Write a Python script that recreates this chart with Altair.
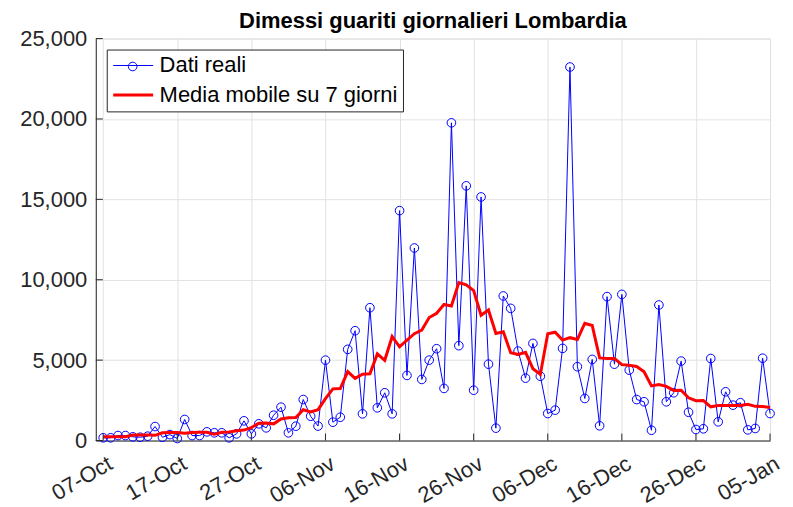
import altair as alt
import pandas as pd

# ---- data ----
START_DATE = "2020-10-07"
VALUES = [170, 170, 310, 310, 230, 205, 270, 870, 205, 370,
          125, 1310, 310, 310, 540, 480, 480, 170, 415, 1225,
          415, 1040, 790, 1575, 2075, 480, 890, 2550, 1510, 900,
          5000, 1140, 1450, 5670, 6830, 1660, 8260, 2035, 2970, 1660,
          14300, 4050, 11975, 3800, 5000, 5710, 3240, 19760, 5900, 15840,
          3130, 15150, 4750, 770, 8990, 8220, 5560, 3880, 6040, 4000,
          1680, 1890, 5730, 23230, 4590, 2615, 5045, 915, 8950, 4750,
          9090, 4380, 2550, 2410, 640, 8430, 2410, 2970, 4940, 1760,
          685, 730, 5100, 1165, 3030, 2200, 2350, 665, 750, 5120,
          1680]
SERIES = ["Dati reali", "Media mobile su 7 giorni"]
X_TICKS = ["2020-10-07", "2020-10-17", "2020-10-27", "2020-11-06", "2020-11-16",
           "2020-11-26", "2020-12-06", "2020-12-16", "2020-12-26", "2021-01-05"]
X_DOMAIN = ["2020-10-06", "2021-01-05"]
Y_TICKS = [0, 5000, 10000, 15000, 20000, 25000]
TITLE = "Dimessi guariti giornalieri Lombardia"

dates = pd.date_range(START_DATE, periods=len(VALUES), freq="D").strftime("%Y-%m-%d")
df = pd.DataFrame({"date": dates, "v": VALUES})


def ms(d):
    return int(pd.Timestamp(d, tz="UTC").value // 10**6)


FONT = "Liberation Sans"
AX = "#262626"
GRID = "#e2e2e2"
W, H = 676, 403
FS = 22

xscale = alt.Scale(type="utc", domain=[ms(d) for d in X_DOMAIN])
yscale = alt.Scale(domain=[Y_TICKS[0], Y_TICKS[-1]], nice=False)

xaxis = alt.Axis(values=[ms(d) for d in X_TICKS], format="%d-%b", labelAngle=-30,
                 labelAlign="right", labelBaseline="middle", labelPadding=21,
                 labelOffset=7,
                 labelFlush=False, labelOverlap=False, labelBound=False,
                 ticks=False, grid=True, gridColor=GRID, domainColor=AX,
                 labelFont=FONT, labelFontSize=FS, labelColor=AX, title=None)
yaxis = alt.Axis(values=Y_TICKS, format=",d", ticks=False, grid=True, gridColor=GRID,
                 domainColor=AX, labelFont=FONT, labelFontSize=FS, labelColor=AX,
                 labelPadding=9, title=None)

leg = alt.Legend(orient="none", legendX=11, legendY=11, title=None,
                 strokeColor=AX, fillColor="white", padding=5, cornerRadius=0,
                 symbolType="M-1,0H3", symbolSize=400, labelFont=FONT,
                 labelFontSize=FS, labelColor="black", rowPadding=7,
                 labelOffset=25, symbolOffset=0, labelLimit=500, zindex=1)
cscale = alt.Scale(domain=SERIES, range=["#0000ff", "#ff0000"])
wscale = alt.Scale(domain=SERIES, range=[1, 3])

base = alt.Chart(df)

blue_line = base.mark_line(interpolate="linear").transform_calculate(
    series="'" + SERIES[0] + "'"
).encode(
    x=alt.X("date:T", scale=xscale, axis=xaxis),
    y=alt.Y("v:Q", scale=yscale, axis=yaxis),
    color=alt.Color("series:O", scale=cscale, legend=leg),
    strokeWidth=alt.StrokeWidth("series:O", scale=wscale, legend=leg),
)

points = base.mark_point(filled=False, color="#0000ff", size=75, strokeWidth=1,
                         opacity=1).transform_calculate(
    mk="'" + SERIES[0] + "'"
).encode(
    x=alt.X("date:T", scale=xscale, axis=xaxis),
    y=alt.Y("v:Q", scale=yscale, axis=yaxis),
    shape=alt.Shape("mk:N", scale=alt.Scale(domain=[SERIES[0]], range=["circle"]),
                    legend=alt.Legend(orient="none", legendX=32, legendY=23, title=None,
                                      labelExpr="''", padding=0, symbolSize=75,
                                      symbolStrokeColor="#0000ff",
                                      symbolFillColor="transparent",
                                      symbolStrokeWidth=1, symbolOpacity=1,
                                      labelFontSize=1, zindex=2)),
)

red_line = base.mark_line(interpolate="linear").transform_window(
    ma="mean(v)", frame=[-3, 3], sort=[alt.SortField("date")]
).transform_calculate(
    series="'" + SERIES[1] + "'"
).encode(
    x=alt.X("date:T", scale=xscale, axis=xaxis),
    y=alt.Y("ma:Q", scale=yscale, axis=yaxis),
    color=alt.Color("series:O", scale=cscale, legend=leg),
    strokeWidth=alt.StrokeWidth("series:O", scale=wscale, legend=leg),
)

xt = alt.Chart(pd.DataFrame({"t": X_TICKS})).mark_rule(color=AX, strokeWidth=1).encode(
    x=alt.X("t:T", scale=xscale, axis=xaxis), y=alt.value(H), y2=alt.value(H - 7))
yt = alt.Chart(pd.DataFrame({"t": Y_TICKS})).mark_rule(color=AX, strokeWidth=1).encode(
    y=alt.Y("t:Q", scale=yscale, axis=yaxis), x=alt.value(0), x2=alt.value(7))

chart = alt.layer(blue_line, points, red_line, xt, yt).properties(
    width=W, height=H,
    title=alt.TitleParams(TITLE, font=FONT, fontSize=FS, fontWeight="bold",
                          color="black", anchor="middle", frame="group",
                          baseline="bottom", offset=5, dy=32),
    autosize=alt.AutoSizeParams(type="none"),
    padding={"left": 88, "top": 30, "right": 15, "bottom": 67},
).configure_view(stroke=None).configure(background="white")

chart.save("out.html", embed_options={"renderer": "svg", "actions": False})
